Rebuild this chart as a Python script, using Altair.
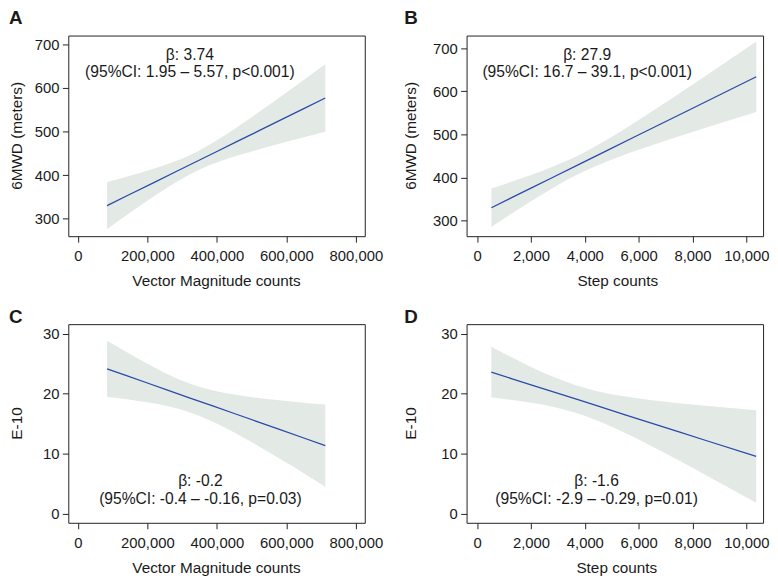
import altair as alt
import pandas as pd

FONT = "Liberation Sans"
BAND = "#e3eae6"
LINE = "#2b4aa6"
TXT = "#1a1a1a"

# ---------------- data ----------------
# Panel A: 6MWD vs Vector Magnitude counts
XS_A = [84000, 150000, 220000, 280000, 340000, 400000, 460000, 520000, 590000, 650000, 712000]
FIT_A = [330, 356.0, 383.5, 407.1, 430.7, 454.3, 477.9, 501.5, 529.0, 552.6, 577]
LO_A = [276, 313.5, 352.0, 382.6, 408.7, 428.8, 444.8, 458.9, 474.1, 486.7, 499.5]
HI_A = [384, 398.5, 415.0, 431.6, 452.7, 479.8, 511.0, 544.1, 583.9, 618.5, 654.5]

# Panel B: 6MWD vs Step counts
XS_B = [530, 1300, 2000, 2800, 3860, 4800, 5800, 6800, 7800, 9000, 10370]
FIT_B = [330, 353.9, 375.5, 400.1, 432.8, 461.8, 492.7, 523.5, 554.3, 591.3, 633.6]
LO_B = [285.5, 317.1, 345.0, 375.2, 410.8, 436.6, 460.1, 481.3, 501.6, 525.3, 552.1]
HI_B = [374.5, 390.7, 406.0, 425.0, 454.8, 487.0, 525.3, 565.7, 607.0, 657.3, 715.1]

# Panel C: E-10 vs Vector Magnitude counts
XS_C = [84000, 140000, 200000, 260000, 327000, 390000, 450000, 520000, 580000, 650000, 712000]
FIT_C = [24.15, 23.02, 21.79, 20.56, 19.2, 17.92, 16.7, 15.27, 14.05, 12.62, 11.36]
LO_C = [19.45, 19.09, 18.59, 17.92, 16.8, 15.3, 13.54, 11.26, 9.2, 6.73, 4.51]
HI_C = [28.85, 26.95, 24.99, 23.2, 21.6, 20.54, 19.86, 19.28, 18.9, 18.51, 18.21]

# Panel D: E-10 vs Step counts
XS_D = [526, 1300, 2000, 2800, 3717, 4500, 5500, 6500, 7500, 8500, 10367]
FIT_D = [23.6, 22.49, 21.49, 20.35, 19.04, 17.92, 16.49, 15.06, 13.63, 12.2, 9.54]
LO_D = [19.4, 18.96, 18.51, 17.84, 16.74, 15.46, 13.46, 11.21, 8.85, 6.42, 1.82]
HI_D = [27.83, 26.02, 24.47, 22.86, 21.34, 20.38, 19.52, 18.91, 18.41, 17.98, 17.26]

LETTERS = ["A", "B", "C", "D"]
X_TITLES = ["Vector Magnitude counts", "Step counts", "Vector Magnitude counts", "Step counts"]
Y_TITLES = ["6MWD (meters)", "6MWD (meters)", "E-10", "E-10"]
ANN_1 = ["β: 3.74", "β: 27.9", "β: -0.2", "β: -1.6"]
ANN_2 = ["(95%CI: 1.95 – 5.57, p<0.001)", "(95%CI: 16.7 – 39.1, p<0.001)",
         "(95%CI: -0.4 – -0.16, p=0.03)", "(95%CI: -2.9 – -0.29, p=0.01)"]

X_TICKS_VM = [0, 200000, 400000, 600000, 800000]
X_TICKS_STEP = [0, 2000, 4000, 6000, 8000, 10000]
Y_TICKS_6MWD = [300, 400, 500, 600, 700]
Y_TICKS_E10 = [0, 10, 20, 30]


def txt(s, x, y, size=15.5, **kw):
    return alt.Chart(pd.DataFrame({"t": [s]})).mark_text(
        font=FONT, fontSize=size, color=TXT, **kw
    ).encode(x=alt.value(x), y=alt.value(y), text="t:N")


def panel(i, xs, fit, lo, hi, xdom, ydom, xticks, yticks, h,
          ann_x, ann_y, letter_x, letter_y, ytitle_x, xtitle_x):
    df = pd.DataFrame({"x": xs, "fit": fit, "lo": lo, "hi": hi})
    xs_ = alt.Scale(domain=xdom, nice=False, zero=False)
    ys_ = alt.Scale(domain=ydom, nice=False, zero=False)
    xaxis = alt.Axis(values=xticks, format=",d", title=None, labelBaseline="alphabetic",
                     labelPadding=19, labelFlush=False, labelOverlap=False)
    yaxis = alt.Axis(values=yticks, format="d", title=None, labelPadding=3.5,
                     labelFlush=False, labelOverlap=False)
    band = alt.Chart(df).mark_area(color=BAND, interpolate="monotone", opacity=1).encode(
        x=alt.X("x:Q", scale=xs_, axis=xaxis),
        y=alt.Y("lo:Q", scale=ys_, axis=yaxis),
        y2="hi:Q",
    )
    line = alt.Chart(df).mark_line(color=LINE, strokeWidth=1.3).encode(
        x=alt.X("x:Q"), y=alt.Y("fit:Q")
    )
    layers = [
        band,
        line,
        txt(ANN_1[i], ann_x, ann_y, size=15.8, align="center", baseline="alphabetic"),
        txt(ANN_2[i], ann_x, ann_y + 17.5, size=15.8, align="center", baseline="alphabetic"),
        txt(LETTERS[i], letter_x, letter_y, size=19, fontWeight="bold",
            align="left", baseline="alphabetic"),
        txt(Y_TITLES[i], ytitle_x, h / 2, angle=270, align="center", baseline="middle"),
        txt(X_TITLES[i], xtitle_x, h + 50.5, align="center", baseline="alphabetic"),
    ]
    return alt.layer(*layers).properties(width=300, height=h)


H1, H2 = 203, 201
pA = panel(0, XS_A, FIT_A, LO_A, HI_A, [-27600, 825600], [259.8, 720.4],
           X_TICKS_VM, Y_TICKS_6MWD, H1, 123, 24.3, -60, -12, -52, 150)
pB = panel(1, XS_B, FIT_B, LO_B, HI_B, [-393, 10623], [264, 729.1],
           X_TICKS_STEP, Y_TICKS_6MWD, H1, 122, 24.3, -63, -11.5, -56, 153)
pC = panel(2, XS_C, FIT_C, LO_C, HI_C, [-27600, 825600], [-1.52, 31.6],
           X_TICKS_VM, Y_TICKS_E10, H2, 133.7, 164, -60, -1.6, -52, 150)
pD = panel(3, XS_D, FIT_D, LO_D, HI_D, [-393, 10623], [-1.52, 31.6],
           X_TICKS_STEP, Y_TICKS_E10, H2, 131.5, 164, -63, -1.6, -56, 152)

chart = alt.concat(
    pA, pB, pC, pD, columns=2, spacing={"row": 89, "column": 103}, bounds="flush"
).properties(
    padding={"top": -3.5, "left": 0, "right": 0, "bottom": 0}, background="white"
).configure_view(
    stroke="#222", strokeWidth=1
).configure_axis(
    domain=False, grid=False, ticks=True, tickColor="#222", tickSize=6, tickWidth=1,
    labelFont=FONT, labelFontSize=15, labelColor=TXT
)

chart.save("out.html", embed_options={"renderer": "svg", "actions": False})
